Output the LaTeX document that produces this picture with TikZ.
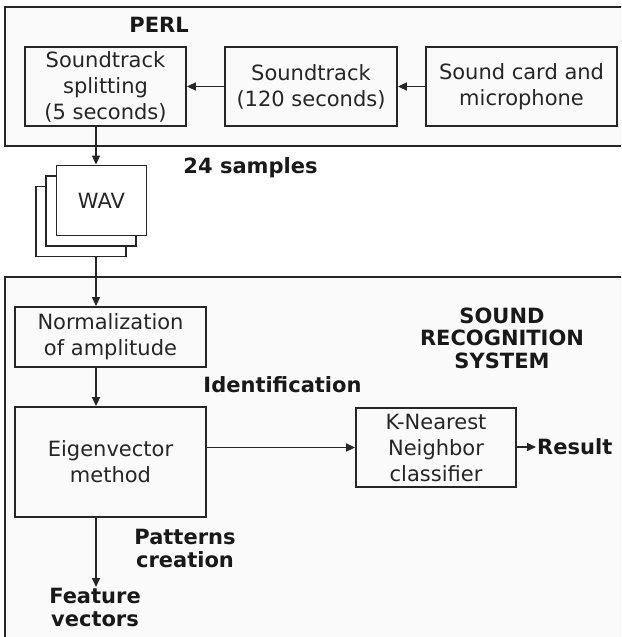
\documentclass[tikz,border=0pt]{standalone}
\usepackage{fontspec}
\setmainfont{DejaVu Sans}
\usetikzlibrary{arrows.meta}

\begin{document}
\begin{tikzpicture}[x=1pt, y=-1pt,
    frame/.style={draw=black!85, fill=black!2, line width=1.8pt},
    box/.style={draw=black!85, line width=1.8pt, align=center, inner sep=0pt, text=black!85,
        font=\fontsize{21}{26}\selectfont},
    sheet/.style={box, fill=white, minimum width=90pt, minimum height=70pt},
    lbl/.style={align=center, inner sep=1pt, text=black!90,
        font=\bfseries\fontsize{21}{22.5}\selectfont},
    arr/.style={draw=black!85, line width=1.6pt, -{Triangle[length=9pt,width=8pt]}}]
\useasboundingbox (0,0) rectangle (621,637);
\clip (0,0) rectangle (621,637);

% Frames
\draw[frame] (5,7) rectangle (632,146);
\draw[frame] (5,277) rectangle (632,650);
\coordinate (spine) at (96,0);

% PERL part
\node[lbl] (perl) at (159,25) {PERL};
\node[box, minimum width=161pt, minimum height=79pt] (split) at (105.5,86.5) {Soundtrack\\splitting\\(5 seconds)};
\node[box, minimum width=172pt, minimum height=79pt] (track) at (311,86.5) {Soundtrack\\(120 seconds)};
\node[box, minimum width=191pt, minimum height=79pt] (card) at (521.5,86.5) {Sound card and\\microphone};
\draw[arr] (card) -- (track);
\draw[arr] (track) -- (split);

% Samples
\node[sheet] (wavc) at (81,221.5) {};
\node[sheet] (wavb) at (91,211) {};
\node[sheet] (wava) at (101.5,200.5) {WAV};
\node[lbl, anchor=base] (samples) at (250.5,173) {24 samples};
\draw[arr] (split.south -| spine) -- (wava.north -| spine);

% Sound recognition system
\node[lbl] (srs) at (502,338) {SOUND\\RECOGNITION\\SYSTEM};
\node[box, minimum width=191pt, minimum height=60pt] (norm) at (110.5,337) {Normalization\\of amplitude};
\node[box, minimum width=191pt, minimum height=110pt] (eigen) at (110.5,462) {Eigenvector\\method};
\node[box, minimum width=160pt, minimum height=79pt] (knn) at (436,447.5) {K-Nearest\\Neighbor\\classifier};
\node[lbl] (ident) at (282.5,385) {Identification};
\node[lbl, anchor=west] (result) at (536,447) {Result};
\node[lbl] (patterns) at (185,548.5) {Patterns\\creation};
\node[lbl, anchor=north] (feature) at (95,587) {Feature\\vectors};
\draw[arr] (wavc.south -| spine) -- (norm.north -| spine);
\draw[arr] (norm.south -| spine) -- (eigen.north -| spine);
\draw[arr] (eigen.east |- knn.west) -- (knn.west);
\draw[arr] (knn.east |- result.west) -- (result.west);
\draw[arr] (eigen.south -| spine) -- (feature.north -| spine);
\end{tikzpicture}
\end{document}
